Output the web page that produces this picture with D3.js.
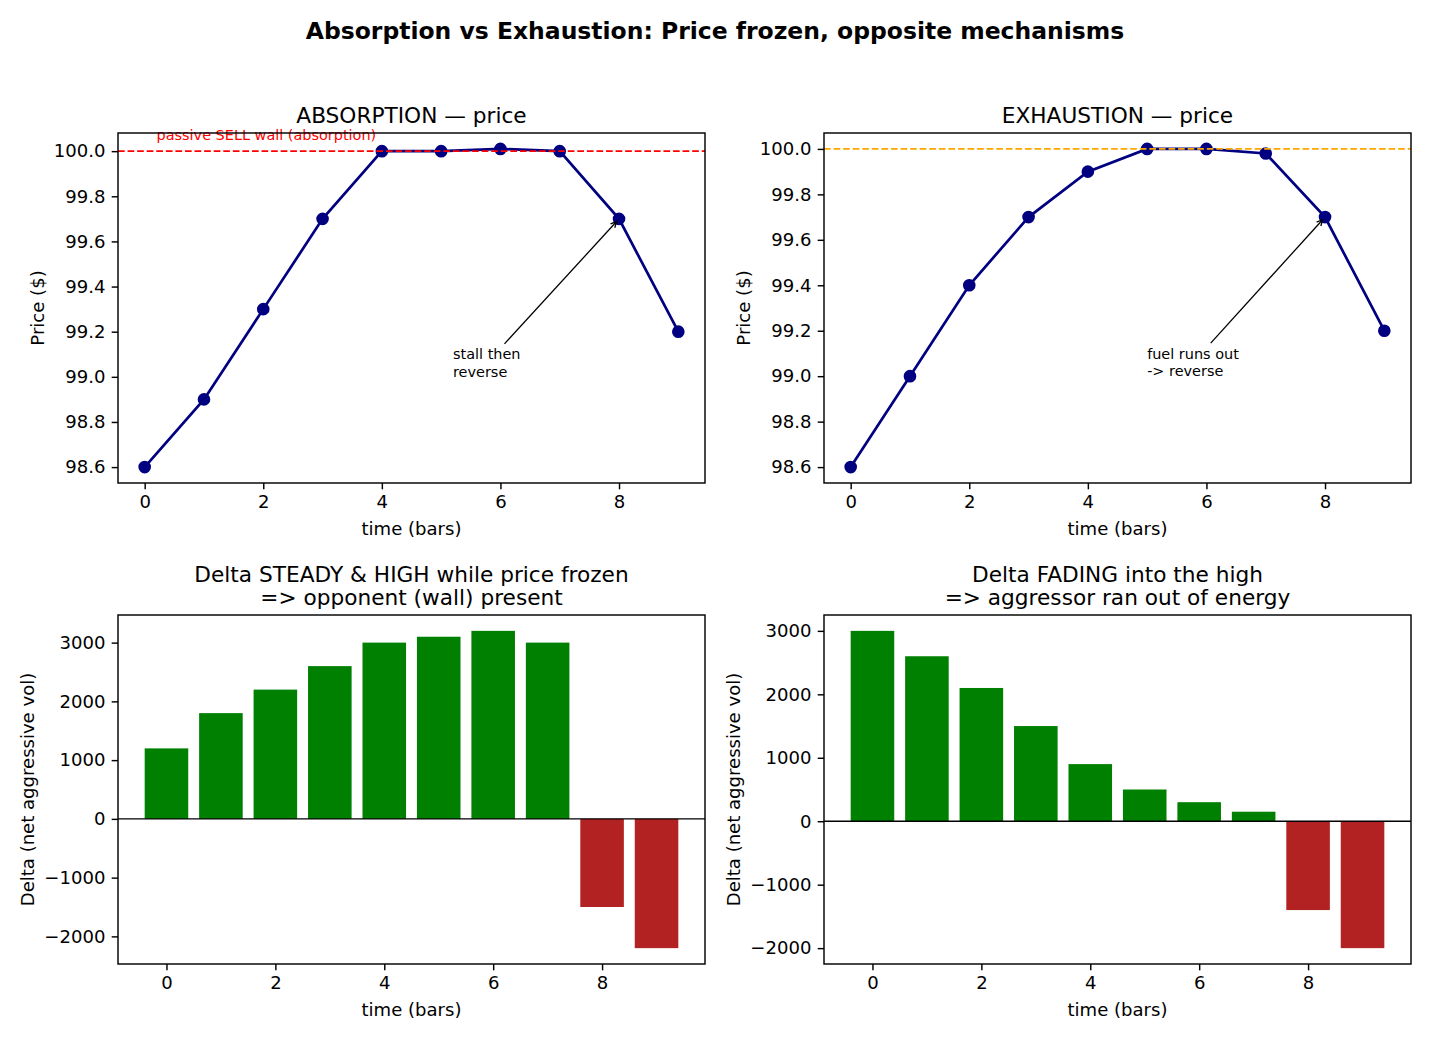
<!DOCTYPE html>
<html>
<head>
<meta charset="utf-8">
<script src="https://cdn.jsdelivr.net/npm/d3@7"></script>
<style>
  body { margin: 0; background: #fff; }
  svg text { font-family: "DejaVu Sans", sans-serif; }
</style>
</head>
<body>
<svg id="fig" width="1430" height="1040"></svg>
<script>
// bars on the time axis
var bars = [0, 1, 2, 3, 4, 5, 6, 7, 8, 9]

var absPrice = [98.6, 98.9, 99.3, 99.7, 100.0, 100.0, 100.01, 100.0, 99.7, 99.2]
var exhPrice = [98.6, 99.0, 99.4, 99.7, 99.9, 100.0, 100.0, 99.98, 99.7, 99.2]

var absDelta = [1200, 1800, 2200, 2600, 3000, 3100, 3200, 3000, -1500, -2200]
var exhDelta = [3000, 2600, 2100, 1500, 900, 500, 300, 150, -1400, -2000]

var priceTicks = [98.6, 98.8, 99.0, 99.2, 99.4, 99.6, 99.8, 100.0]
var deltaTicksAbs = [-2000, -1000, 0, 1000, 2000, 3000]
var deltaTicksExh = [-2000, -1000, 0, 1000, 2000, 3000]
var xTicks = [0, 2, 4, 6, 8]

var pt = 130 / 72
var svg = d3.select("#fig")

svg.append("text")
  .attr("x", 715).attr("y", 39)
  .attr("text-anchor", "middle")
  .style("font-size", 13 * pt + "px")
  .style("font-weight", "bold")
  .text("Absorption vs Exhaustion: Price frozen, opposite mechanisms")

function withMargin(lo, hi) {
  var m = (hi - lo) * 0.05
  return [lo - m, hi + m]
}

function makeAxes(box, xDom, yDom, xt, yt, yFmt) {
  var g = svg.append("g")
  var x = d3.scaleLinear().domain(xDom).range([box.left, box.right])
  var y = d3.scaleLinear().domain(yDom).range([box.bottom, box.top])

  var xAxis = d3.axisBottom(x).tickValues(xt).tickSize(3.5 * pt).tickPadding(3.5 * pt).tickFormat(d3.format("d"))
  var yAxis = d3.axisLeft(y).tickValues(yt).tickSize(3.5 * pt).tickPadding(3.5 * pt).tickFormat(yFmt)

  var gx = g.append("g").attr("transform", "translate(0," + box.bottom + ")").call(xAxis)
  var gy = g.append("g").attr("transform", "translate(" + box.left + ",0)").call(yAxis)
  ;[gx, gy].forEach(function (a) {
    a.select(".domain").remove()
    a.selectAll("line").attr("stroke", "#000").attr("stroke-width", 0.8 * pt)
    a.selectAll("text").style("font-size", 10 * pt + "px").attr("fill", "#000")
  })
  var plot = g.append("g")
  return { g: g, x: x, y: y, plot: plot, box: box }
}

function frame(ax) {
  var b = ax.box
  ax.g.append("rect")
    .attr("x", b.left).attr("y", b.top)
    .attr("width", b.right - b.left).attr("height", b.bottom - b.top)
    .attr("fill", "none").attr("stroke", "#000").attr("stroke-width", 0.8 * pt)
}

function labels(ax, title, xlab, ylab, ylabX) {
  var b = ax.box
  var cx = (b.left + b.right) / 2
  var t = ax.g.append("text").attr("text-anchor", "middle").style("font-size", 12 * pt + "px")
  if (title.length === 1) {
    t.attr("x", cx).attr("y", b.top - 10).text(title[0])
  } else {
    t.append("tspan").attr("x", cx).attr("y", b.top - 33).text(title[0])
    t.append("tspan").attr("x", cx).attr("y", b.top - 10).text(title[1])
  }
  ax.g.append("text").attr("x", cx).attr("y", b.bottom + 52)
    .attr("text-anchor", "middle").style("font-size", 10 * pt + "px").text(xlab)
  var cy = (b.top + b.bottom) / 2
  ax.g.append("text")
    .attr("transform", "translate(" + ylabX + "," + cy + ") rotate(-90)")
    .attr("text-anchor", "middle").style("font-size", 10 * pt + "px").text(ylab)
}

function annotate(ax, lines, tx, ty, px, py) {
  var fs = 8 * pt
  var t = ax.g.append("text").style("font-size", fs + "px")
  var x0 = ax.x(tx), y0 = ax.y(ty)
  lines.forEach(function (s, i) {
    t.append("tspan").attr("x", x0).attr("y", y0 - (lines.length - 1 - i) * fs * 1.2).text(s)
  })
  var bb = t.node().getBBox()
  var cx = bb.x + bb.width / 2, cy = bb.y + bb.height / 2
  var ex = ax.x(px), ey = ax.y(py)
  var dx = ex - cx, dy = ey - cy
  var len = Math.sqrt(dx * dx + dy * dy)
  var ux = dx / len, uy = dy / len
  // clip against text box
  var sx = Math.abs(ux) > 1e-6 ? (bb.width / 2) / Math.abs(ux) : Infinity
  var sy = Math.abs(uy) > 1e-6 ? (bb.height / 2) / Math.abs(uy) : Infinity
  var s0 = Math.min(sx, sy) + 2 * pt
  var ax0 = cx + ux * s0, ay0 = cy + uy * s0
  var ax1 = ex - ux * 2 * pt, ay1 = ey - uy * 2 * pt
  ax.g.append("line")
    .attr("x1", ax0).attr("y1", ay0).attr("x2", ax1).attr("y2", ay1)
    .attr("stroke", "#000").attr("stroke-width", 1.3)
  var hl = 0.4 * fs, hw = 0.2 * fs
  var nx = -uy, ny = ux
  var bx = ax1 - ux * hl, by = ay1 - uy * hl
  ax.g.append("path")
    .attr("d", "M" + (bx + nx * hw) + "," + (by + ny * hw) + "L" + ax1 + "," + ay1 + "L" + (bx - nx * hw) + "," + (by - ny * hw))
    .attr("fill", "none").attr("stroke", "#000").attr("stroke-width", 1.3)
}

function pricePanel(box, prices, lineColor, title, wallText) {
  var ext = d3.extent(prices)
  var ax = makeAxes(box, withMargin(0, 9), withMargin(ext[0], ext[1]), xTicks, priceTicks, d3.format(".1f"))
  var line = d3.line().x(function (d, i) { return ax.x(bars[i]) }).y(function (d) { return ax.y(d) })
  ax.plot.append("path").datum(prices)
    .attr("d", line).attr("fill", "none")
    .attr("stroke", "#000080").attr("stroke-width", 1.5 * pt)
  ax.plot.selectAll("circle").data(prices).enter().append("circle")
    .attr("cx", function (d, i) { return ax.x(bars[i]) })
    .attr("cy", function (d) { return ax.y(d) })
    .attr("r", 3 * pt).attr("fill", "#000080")
    .attr("stroke", "#000080").attr("stroke-width", 1 * pt)
  // level line drawn over the price line
  ax.plot.append("line")
    .attr("x1", box.left).attr("x2", box.right)
    .attr("y1", ax.y(100)).attr("y2", ax.y(100))
    .attr("stroke", lineColor).attr("stroke-width", 1 * pt)
    .attr("stroke-dasharray", (3.7 * pt) + "," + (1.6 * pt))
  if (wallText) {
    ax.g.append("text")
      .attr("x", ax.x(0.2)).attr("y", ax.y(100.05))
      .attr("fill", lineColor).style("font-size", 8 * pt + "px")
      .text(wallText)
  }
  frame(ax)
  labels(ax, [title], "time (bars)", "Price ($)", box.left - 74)
  return ax
}

function deltaPanel(box, deltas, ticks, title) {
  var ext = d3.extent(deltas)
  var ax = makeAxes(box, withMargin(-0.4, 9.4), withMargin(ext[0], ext[1]), xTicks, ticks, function (d) {
    return d < 0 ? "\u2212" + Math.abs(d) : String(d)
  })
  ax.plot.selectAll("rect").data(deltas).enter().append("rect")
    .attr("x", function (d, i) { return ax.x(bars[i] - 0.4) })
    .attr("width", function (d, i) { return ax.x(bars[i] + 0.4) - ax.x(bars[i] - 0.4) })
    .attr("y", function (d) { return ax.y(Math.max(d, 0)) })
    .attr("height", function (d) { return Math.abs(ax.y(d) - ax.y(0)) })
    .attr("fill", function (d) { return d >= 0 ? "#008000" : "#b22222" })
  ax.plot.append("line")
    .attr("x1", box.left).attr("x2", box.right)
    .attr("y1", ax.y(0)).attr("y2", ax.y(0))
    .attr("stroke", "#000").attr("stroke-width", 0.8 * pt)
  frame(ax)
  labels(ax, title, "time (bars)", "Delta (net aggressive vol)", box.left - 84)
  return ax
}

var left = { l: 118, r: 705 }, right = { l: 824, r: 1411 }
var topRow = { t: 133, b: 483 }, botRow = { t: 615, b: 964 }

var a1 = pricePanel({ left: left.l, right: left.r, top: topRow.t, bottom: topRow.b },
  absPrice, "#ff0000", "ABSORPTION \u2014 price", "passive SELL wall (absorption)")
annotate(a1, ["stall then", "reverse"], 5.2, 99.0, 8, 99.7)

var a2 = pricePanel({ left: right.l, right: right.r, top: topRow.t, bottom: topRow.b },
  exhPrice, "#ffa500", "EXHAUSTION \u2014 price", null)
annotate(a2, ["fuel runs out", "-> reverse"], 5.0, 99.0, 8, 99.7)

deltaPanel({ left: left.l, right: left.r, top: botRow.t, bottom: botRow.b },
  absDelta, deltaTicksAbs, ["Delta STEADY & HIGH while price frozen", "=> opponent (wall) present"])
deltaPanel({ left: right.l, right: right.r, top: botRow.t, bottom: botRow.b },
  exhDelta, deltaTicksExh, ["Delta FADING into the high", "=> aggressor ran out of energy"])
</script>
</body>
</html>
